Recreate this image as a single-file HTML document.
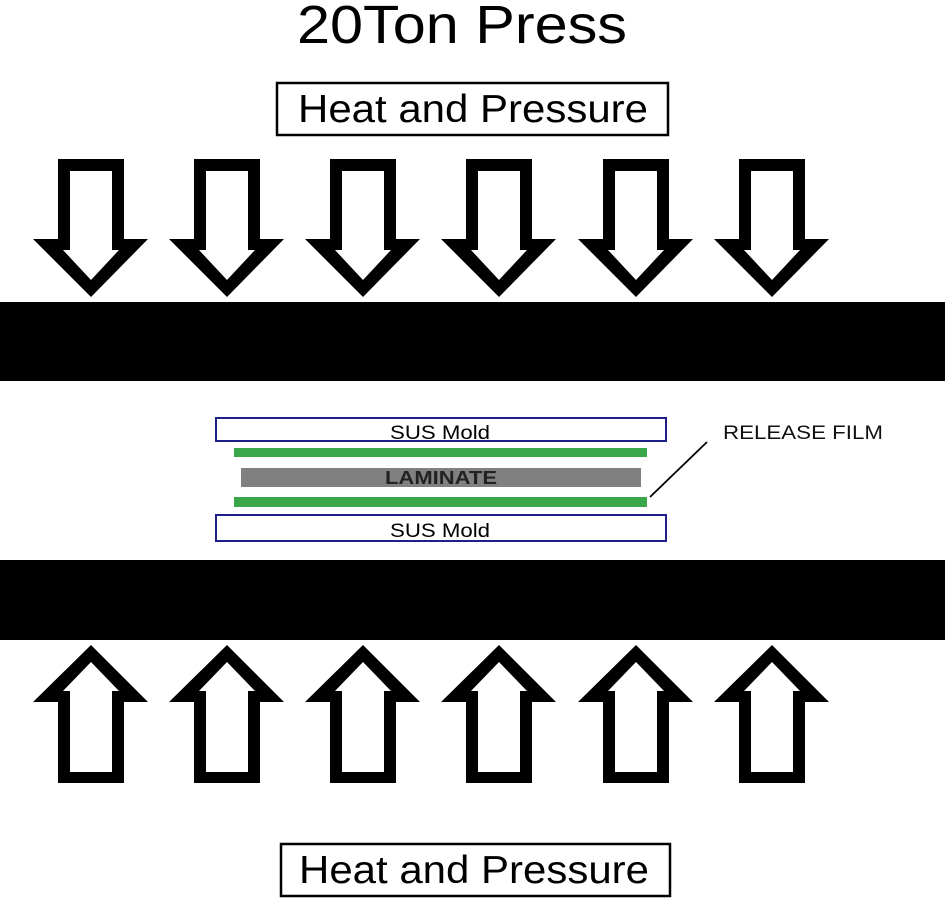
<!DOCTYPE html>
<html><head><meta charset="utf-8"><style>
html,body{margin:0;padding:0;background:#fff;}
svg{display:block;font-family:"Liberation Sans",Arial,sans-serif;}
</style></head><body>
<svg width="945" height="900" viewBox="0 0 945 900" xmlns="http://www.w3.org/2000/svg">
<defs>
<g id="down">
<polygon points="58,159 124,159 124,239 148,239 91,297 33,239 58,239" fill="#000"/>
<polygon points="70,171 112,171 112,250 119,250 91,280 63,250 70,250" fill="#fff"/>
</g>
<g id="up">
<polygon points="91,645 148,702 124,702 124,783 58,783 58,702 33,702" fill="#000"/>
<polygon points="91,662 119,691 112,691 112,772 70,772 70,691 63,691" fill="#fff"/>
</g>
</defs>
<text x="297" y="43" font-size="54" textLength="330" lengthAdjust="spacingAndGlyphs" fill="#000">20Ton Press</text>
<rect x="277" y="83" width="391" height="52" fill="#fff" stroke="#000" stroke-width="2.5"/>
<text x="298" y="122" font-size="39" textLength="350" lengthAdjust="spacingAndGlyphs">Heat and Pressure</text>
<use href="#down"/><use href="#down" x="136"/><use href="#down" x="272"/><use href="#down" x="408"/><use href="#down" x="545"/><use href="#down" x="681"/>
<rect x="0" y="302" width="945" height="79" fill="#000"/>
<rect x="216" y="418" width="450" height="23" fill="#fff" stroke="#1f1f8a" stroke-width="2"/>
<text x="390" y="439" font-size="19" textLength="100" lengthAdjust="spacingAndGlyphs">SUS Mold</text>
<rect x="234" y="448" width="413" height="9" fill="#3aa84a"/>
<rect x="241" y="468" width="400" height="19" fill="#808080"/>
<text x="385" y="484" font-size="18" font-weight="bold" textLength="112" lengthAdjust="spacingAndGlyphs" fill="#222">LAMINATE</text>
<rect x="234" y="497" width="413" height="10" fill="#3aa84a"/>
<rect x="216" y="515" width="450" height="26" fill="#fff" stroke="#1f1f8a" stroke-width="2"/>
<text x="390" y="537" font-size="19" textLength="100" lengthAdjust="spacingAndGlyphs">SUS Mold</text>
<line x1="650" y1="497" x2="707" y2="442" stroke="#000" stroke-width="1.8"/>
<text x="723" y="439" font-size="19" textLength="160" lengthAdjust="spacingAndGlyphs" fill="#111">RELEASE FILM</text>
<rect x="0" y="560" width="945" height="80" fill="#000"/>
<use href="#up"/><use href="#up" x="136"/><use href="#up" x="272"/><use href="#up" x="408"/><use href="#up" x="545"/><use href="#up" x="681"/>
<rect x="281" y="844" width="389" height="52" fill="#fff" stroke="#000" stroke-width="2.5"/>
<text x="299" y="883" font-size="39" textLength="350" lengthAdjust="spacingAndGlyphs">Heat and Pressure</text>
</svg>
</body></html>
